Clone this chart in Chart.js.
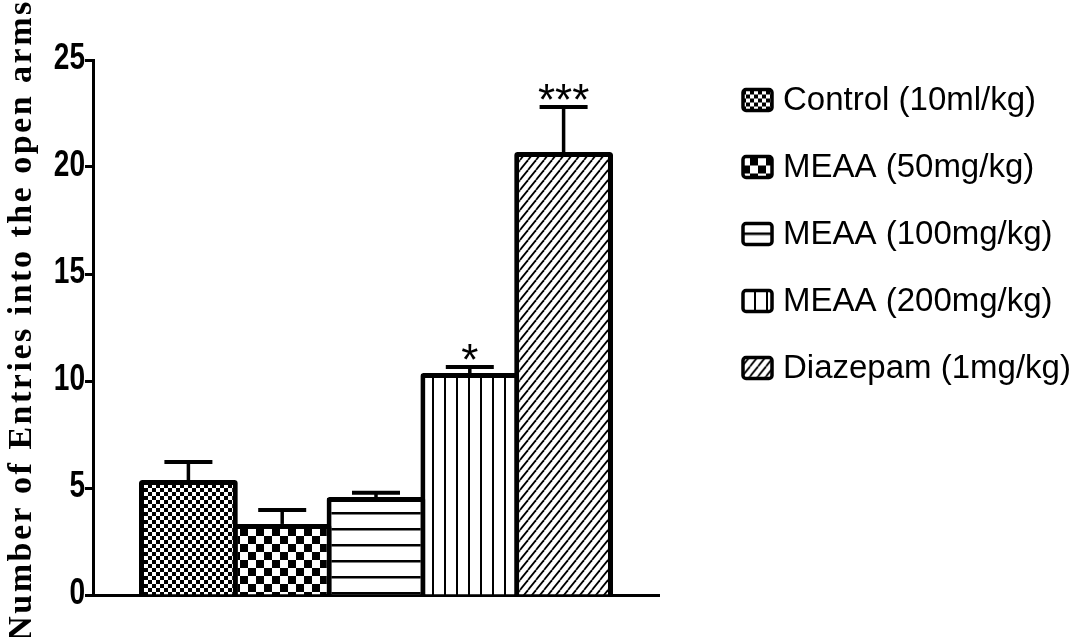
<!DOCTYPE html>
<html>
<head>
<meta charset="utf-8">
<script src="https://cdn.jsdelivr.net/npm/chart.js@4/dist/chart.umd.min.js"></script>
<style>
  html, body { margin: 0; padding: 0; background: #fff; }
  #wrap { width: 1082px; height: 637px; position: relative; }
</style>
</head>
<body>
<div id="wrap"><canvas id="c" width="1082" height="637"></canvas></div>
<script>
// Groups, mean entries into the open arms, and SEM
const groups = ['Control (10ml/kg)', 'MEAA (50mg/kg)', 'MEAA (100mg/kg)', 'MEAA (200mg/kg)', 'Diazepam (1mg/kg)'];
const means = [5.37, 3.32, 4.58, 10.37, 20.7];
const sems = [0.85, 0.65, 0.2, 0.28, 2.1];
const significance = ['', '', '', '*', '***'];
const yTicks = [0, 5, 10, 15, 20, 25];
const yTitle = 'Number of Entries into the open arms';

const canvas = document.getElementById('c');
const ctx = canvas.getContext('2d');

// Monochrome hatch fills
function tile(w, h, paint) {
  const t = document.createElement('canvas');
  t.width = w; t.height = h;
  const g = t.getContext('2d');
  g.fillStyle = '#fff';
  g.fillRect(0, 0, w, h);
  g.fillStyle = '#000';
  g.strokeStyle = '#000';
  paint(g, w, h);
  return ctx.createPattern(t, 'repeat');
}
const fills = [
  tile(8, 8, (g) => { g.fillRect(0, 0, 4, 4); g.fillRect(4, 4, 4, 4); }),
  tile(16, 16, (g) => { g.fillRect(0, 0, 8, 8); g.fillRect(8, 8, 8, 8); }),
  tile(16, 16, (g) => { g.fillRect(0, 0, 16, 2.5); }),
  tile(12, 12, (g) => { g.fillRect(0, 0, 2, 12); }),
  tile(8, 10, (g, w, h) => {
    g.lineWidth = 1.8;
    for (let k = -1; k <= 1; k++) {
      g.beginPath();
      g.moveTo(k * w, h);
      g.lineTo(k * w + w, 0);
      g.stroke();
    }
  })
];

const BORDER = 5;
const axisLeft = 93, axisRight = 659;
const slotSpan = 469;

const datasets = groups.map((name, i) => ({
  label: name,
  data: [means[i]],
  backgroundColor: fills[i],
  borderColor: '#000',
  borderWidth: BORDER,
  borderRadius: 3,
  borderSkipped: 'start',
  categoryPercentage: slotSpan / (axisRight - axisLeft),
  barPercentage: (slotSpan / 5 + BORDER) / (slotSpan / 5)
}));

// Upward error bars with caps, and significance marks above them
const errorBars = {
  id: 'errorBars',
  afterDatasetsDraw(chart) {
    const c = chart.ctx;
    const y = chart.scales.y;
    c.save();
    c.strokeStyle = '#000';
    c.fillStyle = '#000';
    chart.data.datasets.forEach((ds, i) => {
      const bar = chart.getDatasetMeta(i).data[0];
      const top = y.getPixelForValue(means[i] + sems[i]);
      const base = y.getPixelForValue(means[i]);
      c.lineWidth = 3.5;
      c.beginPath();
      c.moveTo(bar.x, base);
      c.lineTo(bar.x, top);
      c.stroke();
      c.lineWidth = 4;
      c.beginPath();
      c.moveTo(bar.x - 24, top);
      c.lineTo(bar.x + 24, top);
      c.stroke();
      if (significance[i]) {
        c.font = '44px "Liberation Sans", Arial, sans-serif';
        c.textAlign = 'center';
        c.textBaseline = 'alphabetic';
        c.fillText(significance[i], bar.x, top + 8);
      }
    });
    c.restore();
  }
};

// Narrow bold tick numbers beside the y axis
const yLabels = {
  id: 'yLabels',
  afterDraw(chart) {
    const c = chart.ctx;
    const y = chart.scales.y;
    c.save();
    c.fillStyle = '#000';
    c.font = 'bold 36px "Liberation Sans", Arial, sans-serif';
    c.textAlign = 'right';
    c.textBaseline = 'middle';
    yTicks.forEach(v => {
      c.save();
      c.translate(85, y.getPixelForValue(v) - 1);
      c.scale(0.78, 1);
      c.fillText(String(v), 0, 0);
      c.restore();
    });
    c.restore();
  }
};

// Rotated y-axis title
const axisTitle = {
  id: 'axisTitle',
  afterDraw(chart) {
    const c = chart.ctx;
    c.save();
    c.translate(22, 320);
    c.rotate(-Math.PI / 2);
    c.font = 'bold 34px "Liberation Serif", "Times New Roman", serif';
    c.letterSpacing = '2.5px';
    c.fillStyle = '#000';
    c.textAlign = 'center';
    c.textBaseline = 'middle';
    c.fillText(yTitle, 0, 0);
    c.restore();
  }
};

// Legend to the right of the plot
const sideLegend = {
  id: 'sideLegend',
  afterDraw(chart) {
    const c = chart.ctx;
    const x0 = 743, y0 = 100, step = 67, bw = 29, bh = 21;
    c.save();
    chart.data.datasets.forEach((ds, i) => {
      const cy = y0 + i * step;
      c.save();
      c.translate(x0, cy - bh / 2);
      c.beginPath();
      c.roundRect(0, 0, bw, bh, 3);
      c.save();
      c.translate(-1, 9);
      c.fillStyle = ds.backgroundColor;
      c.fill();
      c.restore();
      c.lineWidth = 3.5;
      c.strokeStyle = '#000';
      c.stroke();
      c.restore();
      c.fillStyle = '#000';
      c.font = '33px "Liberation Sans", Arial, sans-serif';
      c.textAlign = 'left';
      c.textBaseline = 'middle';
      c.fillText(ds.label, 783, cy + 1);
    });
    c.restore();
  }
};

new Chart(canvas, {
  type: 'bar',
  data: { labels: [''], datasets },
  plugins: [errorBars, yLabels, axisTitle, sideLegend],
  options: {
    responsive: false,
    animation: false,
    layout: { padding: { left: 0, top: 60, right: 1082 - axisRight, bottom: 42 } },
    plugins: { legend: { display: false }, tooltip: { enabled: false } },
    scales: {
      x: {
        type: 'category',
        grid: { display: false },
        ticks: { display: false },
        border: { display: true, color: '#000', width: 3 },
        afterFit(s) { s.height = 0; }
      },
      y: {
        min: 0,
        max: 25,
        afterBuildTicks(s) { s.ticks = yTicks.map(v => ({ value: v })); },
        grid: { drawOnChartArea: false, drawTicks: true, tickLength: 8, tickWidth: 3, tickColor: '#000' },
        border: { display: true, color: '#000', width: 3 },
        ticks: { display: false },
        afterFit(s) { s.width = axisLeft; }
      }
    }
  }
});
</script>
</body>
</html>
